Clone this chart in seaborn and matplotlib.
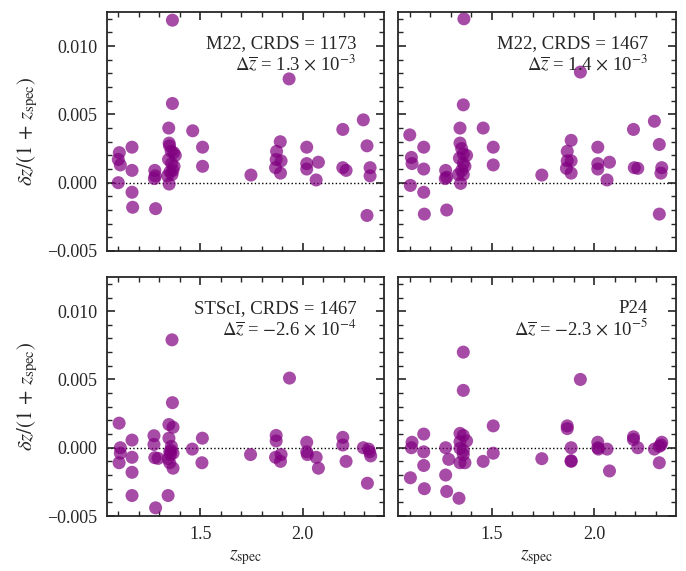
import matplotlib
matplotlib.use("Agg")
import matplotlib.pyplot as plt
import seaborn as sns
import pandas as pd
from matplotlib.ticker import MultipleLocator, FixedLocator, FuncFormatter

sns.set_style("ticks")
plt.rcParams['font.family'] = ['Liberation Serif', 'DejaVu Serif']
plt.rcParams['mathtext.fontset'] = 'stix'

# ---------------- data ----------------
panel_titles = ["M22, CRDS = 1173", "M22, CRDS = 1467", "STScI, CRDS = 1467", "P24"]
panel_means = [r"$\Delta\overline{z}$ = 1.3 $\times$ 10$^{-3}$",
               r"$\Delta\overline{z}$ = 1.4 $\times$ 10$^{-3}$",
               r"$\Delta\overline{z}$ = $-$2.6 $\times$ 10$^{-4}$",
               r"$\Delta\overline{z}$ = $-$2.3 $\times$ 10$^{-5}$"]

x_tl = [1.105, 1.100, 1.110, 1.100, 1.167, 1.167, 1.167, 1.170,
        1.278, 1.280, 1.276, 1.282,
        1.364, 1.364, 1.346, 1.348, 1.350, 1.358, 1.370, 1.378, 1.345, 1.360, 1.372, 1.366, 1.352, 1.340, 1.362, 1.348,
        1.463, 1.511, 1.511, 1.747,
        1.872, 1.870, 1.867, 1.890, 1.894, 1.891, 1.933,
        2.019, 2.019, 2.019, 2.076, 2.065,
        2.195, 2.195, 2.211,
        2.295, 2.313, 2.328, 2.328, 2.313]
y_tl = [0.0022, 0.0017, 0.0013, 0.0000, 0.0026, 0.0009, -0.0007, -0.0018,
        0.0009, 0.0005, 0.0003, -0.0019,
        0.0119, 0.0058, 0.0040, 0.0029, 0.0027, 0.0023, 0.0022, 0.0020, 0.0017, 0.0014, 0.0012, 0.0009, 0.0008, 0.0005, 0.0006, -0.0001,
        0.0038, 0.0026, 0.0012, 0.00056,
        0.0023, 0.0017, 0.0011, 0.0030, 0.0016, 0.0007, 0.0076,
        0.0026, 0.0014, 0.0010, 0.0015, 0.0002,
        0.0039, 0.0011, 0.0009,
        0.0046, 0.0027, 0.0011, 0.0005, -0.0024]

x_tr = [1.101, 1.109, 1.112, 1.104, 1.169, 1.169, 1.169, 1.172,
        1.276, 1.281, 1.274, 1.281,
        1.365, 1.362, 1.346, 1.346, 1.354, 1.362, 1.378, 1.343, 1.362, 1.370, 1.354, 1.338, 1.362, 1.349,
        1.459, 1.508, 1.508, 1.745,
        1.869, 1.869, 1.865, 1.888, 1.888, 1.888, 1.933,
        2.018, 2.018, 2.018, 2.075, 2.063,
        2.192, 2.196, 2.213,
        2.294, 2.318, 2.330, 2.326, 2.318]
y_tr = [0.0035, 0.00185, 0.0014, -0.0002, 0.0026, 0.0010, -0.0007, -0.0023,
        0.0009, 0.0004, 0.0003, -0.0020,
        0.0120, 0.0057, 0.0040, 0.0029, 0.0025, 0.0021, 0.0020, 0.0018, 0.0014, 0.0012, 0.0009, 0.0006, 0.0006, -0.00005,
        0.0040, 0.0026, 0.0013, 0.00056,
        0.0023, 0.0016, 0.00105, 0.0031, 0.0016, 0.0007, 0.0081,
        0.0026, 0.0014, 0.0010, 0.0015, 0.0002,
        0.0039, 0.0011, 0.00105,
        0.0045, 0.0028, 0.0011, 0.0007, -0.0023]

x_bl = [1.104, 1.110, 1.110, 1.104, 1.167, 1.167, 1.167, 1.167,
        1.274, 1.274, 1.278, 1.294, 1.282,
        1.362, 1.364, 1.347, 1.367, 1.347, 1.359, 1.351, 1.367, 1.343, 1.351, 1.367, 1.343, 1.357, 1.354,
        1.461, 1.510, 1.508, 1.745,
        1.870, 1.870, 1.867, 1.894, 1.891, 1.935,
        2.019, 2.019, 2.022, 2.065, 2.076,
        2.195, 2.195, 2.211,
        2.295, 2.321, 2.331, 2.315, 2.326]
y_bl = [0.0018, 0.0, -0.0004, -0.0011, 0.00056, -0.0007, -0.0018, -0.0035,
        0.00088, 0.00024, -0.00073, -0.00078, -0.0044,
        0.0079, 0.0033, 0.0017, 0.0015, 0.0007, 0.0001, -0.0003, -0.0004, -0.0008, -0.0011, -0.0015, -0.0035, -0.0002, -0.0005,
        -0.0001, 0.0007, -0.0011, -0.0005,
        0.0009, 0.0005, -0.0007, -0.0005, -0.0010, 0.0051,
        0.0004, -0.0003, -0.0005, -0.0007, -0.0015,
        0.00076, 0.0002, -0.0010,
        0.0, -0.0001, -0.0006, -0.0026, -0.0003]

x_br = [1.112, 1.109, 1.169, 1.169, 1.169, 1.104, 1.172,
        1.276, 1.291, 1.276, 1.281, 1.341,
        1.362, 1.362, 1.346, 1.362, 1.378, 1.346, 1.346, 1.362, 1.362, 1.346, 1.370,
        1.459, 1.508, 1.508, 1.745,
        1.869, 1.869, 1.888, 1.888, 1.888, 1.933,
        2.018, 2.018, 2.021, 2.063, 2.075,
        2.192, 2.192, 2.213,
        2.294, 2.318, 2.330, 2.326, 2.318]
y_br = [0.0004, 0.0, 0.0010, -0.0003, -0.0013, -0.0022, -0.0030,
        0.0, -0.00085, -0.0020, -0.0032, -0.0037,
        0.0070, 0.0042, 0.00105, 0.0009, 0.0005, 0.00044, -0.00005, -0.0002, -0.0005, -0.0011, -0.0011,
        -0.0010, 0.0016, -0.0004, -0.0008,
        0.0016, 0.0014, 0.0, -0.00095, -0.0010, 0.0050,
        0.0004, 0.0, -0.0001, -0.0001, -0.0017,
        0.0008, 0.0006, 0.0,
        -0.0001, 0.0001, 0.0004, 0.0002, -0.0011]

xs = [x_tl, x_tr, x_bl, x_br]
ys = [y_tl, y_tr, y_bl, y_br]

# ---------------- figure ----------------
fig, axes = plt.subplots(2, 2, figsize=(6.86, 5.71), dpi=100, sharex=True, sharey=True)
fig.subplots_adjust(left=0.156, right=0.985, top=0.979, bottom=0.0963, wspace=0.05, hspace=0.109)

for i, ax in enumerate(axes.flat):
    df = pd.DataFrame({"z_spec": xs[i], "dz": ys[i]})
    sns.scatterplot(data=df, x="z_spec", y="dz", ax=ax, color="purple", alpha=0.7,
                    s=88, edgecolor="none", linewidth=0, legend=False)
    ax.axhline(0.0, color="black", linestyle=":", linewidth=1.0, zorder=0)
    ax.set_xlim(1.045, 2.398)
    ax.set_ylim(-0.005, 0.0125)
    ax.yaxis.set_major_locator(FixedLocator([-0.005, 0.0, 0.005, 0.010]))
    ax.yaxis.set_minor_locator(MultipleLocator(0.001))
    ax.xaxis.set_major_locator(FixedLocator([1.5, 2.0]))
    ax.xaxis.set_minor_locator(MultipleLocator(0.1))
    ax.tick_params(which="both", direction="in", top=True, right=True, labelsize=13)
    ax.tick_params(which="major", length=6, width=1.2, pad=7)
    ax.tick_params(which="minor", length=3.5, width=1.0)
    for sp in ax.spines.values():
        sp.set_linewidth(1.3)
    ax.set_xlabel("")
    ax.set_ylabel("")
    ax.text(0.90, 0.905, panel_titles[i] + "\n" + panel_means[i], transform=ax.transAxes,
            ha="right", va="top", fontsize=13.5, linespacing=1.05)

axes[0, 0].yaxis.set_major_formatter(FuncFormatter(
    lambda v, p: ("\u2212%.3f" % abs(v)) if v < -1e-12 else "%.3f" % abs(v)))

for ax in axes[:, 0]:
    ax.set_ylabel(r"$\delta z/(1\,+\,z_{\rm spec})$", fontsize=15, labelpad=5)
for ax in axes[1, :]:
    ax.set_xlabel(r"$z_{\rm spec}$", fontsize=14, labelpad=4)

fig.savefig("out.png", dpi=100)
